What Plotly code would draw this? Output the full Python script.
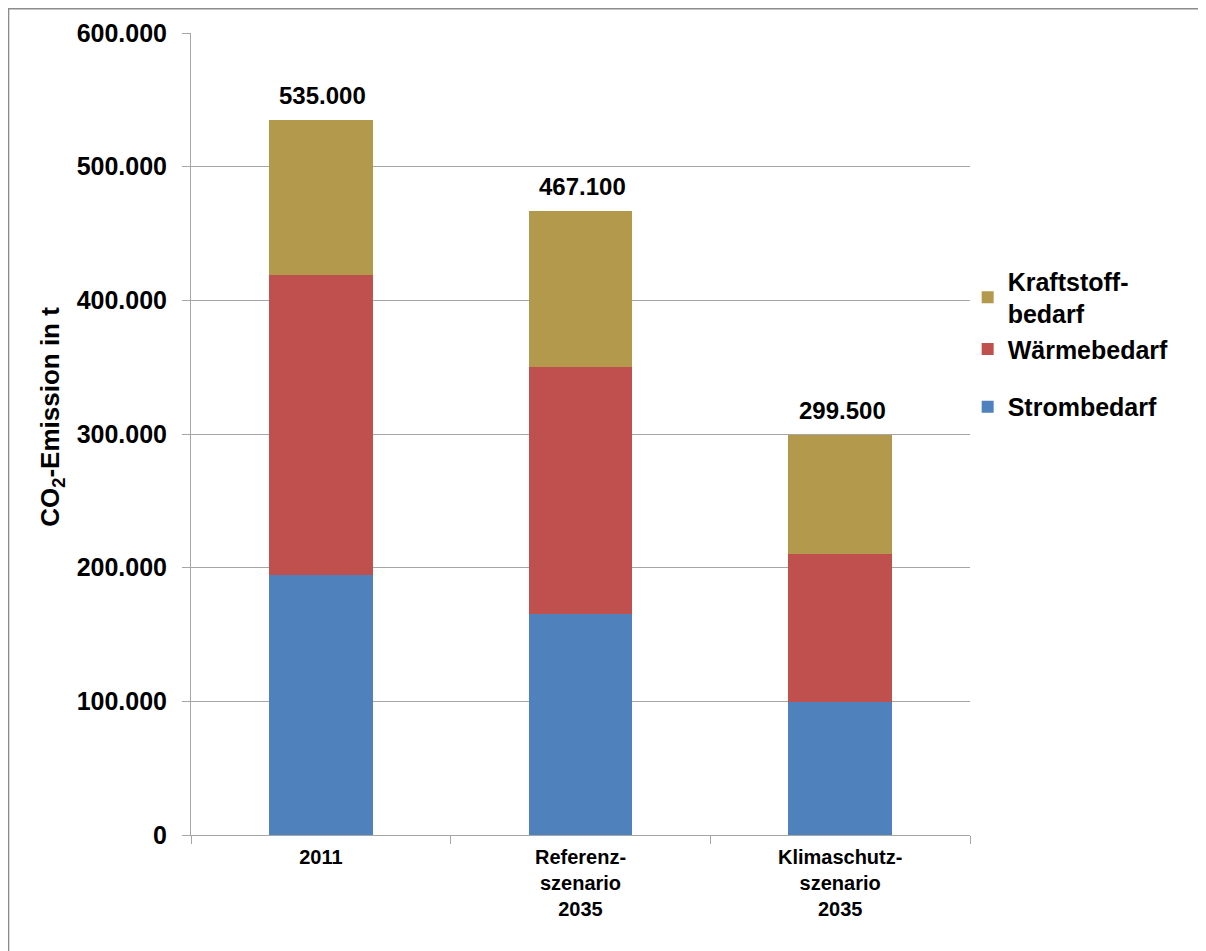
import plotly.graph_objects as go

categories = ["2011", "Referenzszenario 2035", "Klimaschutzszenario 2035"]
tick_labels = ["2011", "Referenz-<br>szenario<br>2035", "Klimaschutz-<br>szenario<br>2035"]
strom = [194500, 165000, 99500]
waerme = [224200, 184800, 110500]
kraftstoff = [116300, 117300, 89500]
totals = [535000, 467100, 299500]
y_ticks = [0, 100000, 200000, 300000, 400000, 500000, 600000]
y_title = "<b>CO<sub>2</sub>-Emission in t</b>"

FONT = "Liberation Sans"


def fmt(v):
    return f"{v:,}".replace(",", ".")


fig = go.Figure()
fig.add_trace(go.Bar(x=categories, y=strom, name="<b>Strombedarf</b>", marker_color="#4F81BD",
                     marker_line_width=0, width=0.4, legend="legend2"))
fig.add_trace(go.Bar(x=categories, y=waerme, name="<b>Wärmebedarf</b>", marker_color="#C0504D",
                     marker_line_width=0, width=0.4, legend="legend"))
fig.add_trace(go.Bar(x=categories, y=kraftstoff, name="<b>Kraftstoff-<br>bedarf</b>", marker_color="#B3994B",
                     marker_line_width=0, width=0.4, legend="legend"))

for i, t in enumerate(totals):
    fig.add_annotation(x=i, y=t, xref="x", yref="y", text=f"<b>{fmt(t)}</b>", showarrow=False,
                       yanchor="bottom", yshift=9, xshift=2, font=dict(family=FONT, size=24, color="black"))

fig.add_annotation(x=-0.179, y=0.521, xref="paper", yref="paper", text=y_title, textangle=-90,
                   showarrow=False, xanchor="center", yanchor="middle",
                   font=dict(family=FONT, size=26, color="black"))

fig.add_shape(type="rect", xref="paper", yref="paper", x0=-0.2345, x1=1.35, y0=-0.25, y1=1.0306,
              line=dict(color="#8c8c8c", width=2), layer="below")

fig.update_layout(
    width=1206, height=951,
    margin=dict(l=183, r=244, t=25, b=124, autoexpand=False),
    barmode="stack",
    plot_bgcolor="white", paper_bgcolor="white",
    font=dict(family=FONT, size=18, color="black"),
    legend=dict(x=0.997, y=0.719, xanchor="left", yanchor="top", traceorder="reversed",
                font=dict(family=FONT, size=25, color="black"), itemwidth=30,
                bgcolor="rgba(0,0,0,0)"),
    legend2=dict(x=0.997, y=0.5625, xanchor="left", yanchor="top",
                 font=dict(family=FONT, size=25, color="black"), itemwidth=30,
                 bgcolor="rgba(0,0,0,0)"),
    showlegend=True,
)
fig.update_xaxes(type="category", range=[-0.5, 2.5], showline=True, linecolor="#a6a6a6", linewidth=1,
                 ticks="outside", tickcolor="#a6a6a6", ticklen=8, tickson="boundaries",
                 tickvals=categories, ticktext=[f"<b>{t}</b>" for t in tick_labels],
                 tickfont=dict(size=20, family=FONT), showgrid=False, automargin=False,
                 ticklabelstandoff=4)
fig.update_yaxes(range=[0, 600000], tickvals=y_ticks, ticktext=[f"<b>{fmt(v)}</b>" for v in y_ticks],
                 showline=True, linecolor="#a6a6a6", gridcolor="#a6a6a6", gridwidth=1, ticks="outside",
                 tickcolor="#a6a6a6", ticklen=8, tickfont=dict(size=25, family=FONT), zeroline=False,
                 automargin=False, ticklabelstandoff=10)

fig.write_html("out.html")
